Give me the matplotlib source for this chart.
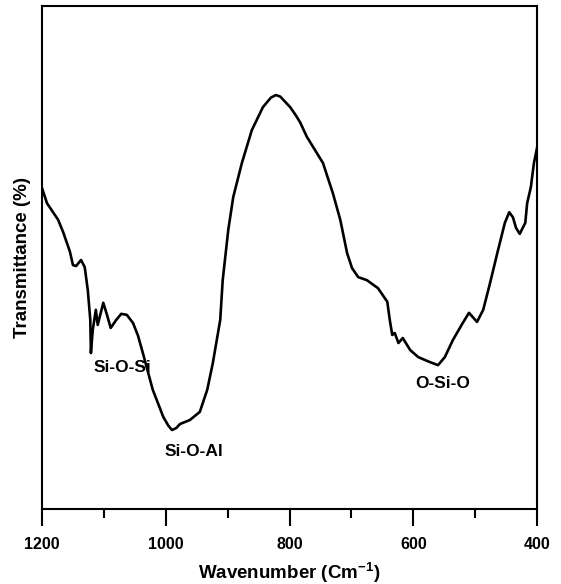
import matplotlib.pyplot as plt
import numpy as np

plt.rcParams['font.family'] = ['Liberation Sans', 'DejaVu Sans']
plt.rcParams['font.weight'] = 'bold'
plt.rcParams['mathtext.fontset'] = 'custom'
plt.rcParams['mathtext.bf'] = 'Liberation Sans:bold'
plt.rcParams['mathtext.rm'] = 'Liberation Sans:bold'

# FTIR spectrum (wavenumber in cm-1, transmittance in arbitrary %)
wavenumber = np.array([
    1200, 1192, 1174, 1166, 1155, 1150, 1145, 1137, 1131, 1126, 1122, 1121, 1118,
    1113, 1110, 1101, 1095, 1089, 1080, 1072, 1063, 1053, 1045, 1037, 1021, 1004,
    996, 990, 983, 977, 961, 945, 933, 924, 912, 908, 899, 891, 877, 861, 843,
    830, 822, 815, 799, 790, 783, 772, 762, 746, 730, 718, 707, 699, 689, 675,
    657, 642, 638, 634, 630, 624, 617, 605, 592, 573, 560, 549, 536, 520, 510,
    497, 487, 476, 463, 452, 445, 439, 434, 428, 419, 416, 410, 405, 400])
transmittance = np.array([
    63.8, 60.8, 57.5, 55.1, 51.2, 48.5, 48.3, 49.5, 48.1, 43.5, 37.6, 31.0, 35.6,
    39.6, 36.6, 41.0, 38.6, 36.0, 37.6, 38.8, 38.6, 37.0, 34.5, 31.0, 23.7, 18.3,
    16.6, 15.7, 16.1, 16.9, 17.7, 19.3, 23.7, 29.0, 37.6, 45.5, 55.5, 62.0, 68.8, 75.3, 79.9,
    81.8, 82.3, 82.0, 79.9, 78.3, 76.9, 74.0, 72.0, 68.8, 62.8, 57.5, 50.9, 47.9, 46.1, 45.5,
    43.9, 41.2, 37.6, 34.6, 35.0, 33.0, 34.0, 31.6, 30.2, 29.2, 28.6, 30.2, 33.6, 37.0, 39.0,
    37.2, 39.6, 44.9, 51.5, 56.9, 59.0, 58.0, 55.9, 54.7, 56.9, 60.8, 64.0, 68.8, 71.8])

band_labels = ["Si-O-Si", "Si-O-Al", "O-Si-O"]
band_pos = [(1070, 28.2), (955, 11.5), (553, 24.9)]

fig = plt.figure(figsize=(5.61, 5.84), dpi=100)
ax = fig.add_axes([0.0749, 0.1284, 0.8824, 0.8613])

ax.plot(wavenumber, transmittance, color='black', lw=1.9, solid_joinstyle='round')

for lab, (x, y) in zip(band_labels, band_pos):
    ax.text(x, y, lab, ha='center', va='center', fontsize=12.5, fontweight='bold')

ax.set_xlim(1200, 400)
ax.set_ylim(0, 100)
ax.set_xticks([1200, 1000, 800, 600, 400])
ax.set_xticks([1100, 900, 700, 500], minor=True)
ax.set_yticks([])
ax.tick_params(axis='x', which='major', direction='out', length=12, width=1.5,
               pad=8, labelsize=11.5)
ax.tick_params(axis='x', which='minor', direction='out', length=6.5, width=1.5)
for s in ax.spines.values():
    s.set_linewidth(1.5)

ax.set_xlabel(r'Wavenumber (Cm$^{\mathbf{-1}}$)', fontsize=13.5, fontweight='bold', labelpad=6)
ax.set_ylabel('Transmittance (%)', fontsize=13.5, fontweight='bold', labelpad=8)

fig.savefig('out.png', dpi=100)
